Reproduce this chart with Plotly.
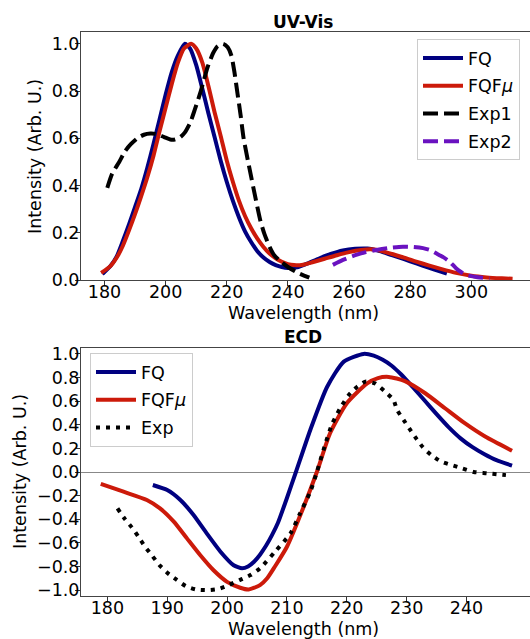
import plotly.graph_objects as go

# ---------------- UV-Vis data ----------------
uv_fq_x = [179.3, 182, 184, 186, 188, 190, 192, 194, 196, 198, 200, 202, 204, 206.3, 208, 210,
           212, 214, 216, 218, 220, 222, 224, 226, 228, 230, 232, 234, 236, 238, 240, 243, 246,
           250, 254, 258, 262, 266, 270, 274, 278, 282, 286, 290, 292]
uv_fq_y = [0.025, 0.06, 0.10, 0.165, 0.235, 0.31, 0.385, 0.475, 0.575, 0.68, 0.785, 0.88, 0.95, 1.0, 0.98, 0.91,
           0.81, 0.705, 0.605, 0.505, 0.415, 0.335, 0.265, 0.205, 0.16, 0.122, 0.095, 0.076, 0.063, 0.055, 0.051, 0.054, 0.068,
           0.09, 0.11, 0.125, 0.132, 0.133, 0.122, 0.105, 0.088, 0.07, 0.053, 0.035, 0.027]

uv_fqfmu_x = [178.9, 182, 184, 186, 188, 190, 192, 194, 196, 198, 200, 202, 204, 206, 208.3, 210,
              212, 214, 216, 218, 220, 222, 224, 226, 228, 230, 232, 234, 236, 238, 240, 242, 245,
              248, 252, 256, 260, 264, 267, 270, 274, 278, 282, 286, 290, 295, 300, 305, 310, 313.5]
uv_fqfmu_y = [0.03, 0.06, 0.095, 0.145, 0.21, 0.28, 0.355, 0.435, 0.525, 0.63, 0.73, 0.83, 0.92, 0.98, 1.0, 0.98,
              0.92, 0.82, 0.71, 0.61, 0.505, 0.415, 0.335, 0.27, 0.218, 0.175, 0.14, 0.112, 0.092, 0.077, 0.067, 0.063, 0.065,
              0.075, 0.09, 0.105, 0.118, 0.127, 0.13, 0.125, 0.11, 0.095, 0.078, 0.062, 0.047, 0.03, 0.018, 0.011, 0.007, 0.005]

uv_exp1_x = [180.9, 182.5, 184.8, 186.7, 188.6, 190.7, 192.9, 195, 197, 199.5, 201.5, 203, 204.8, 206.3,
             208, 209.5, 211.5, 213.7, 215.5, 217, 218.8, 220.3, 221.5, 222.5, 223.5, 224.5, 225.5,
             227.3, 229.5, 231, 232.3, 234, 235.5, 237.5, 240, 243, 247]
uv_exp1_y = [0.39, 0.45, 0.50, 0.545, 0.575, 0.60, 0.615, 0.62, 0.618, 0.605, 0.595, 0.595, 0.605, 0.625,
             0.665, 0.72, 0.80, 0.90, 0.96, 0.99, 1.0, 0.985, 0.95, 0.88, 0.79, 0.70, 0.60,
             0.48, 0.34, 0.25, 0.195, 0.14, 0.105, 0.08, 0.055, 0.032, 0.01]

uv_exp2_x = [254.7, 258, 262.3, 265.5, 268.9, 273, 277.6, 281, 284.2, 286.4, 288.5, 290.8, 292.9,
             295, 296.5, 298.4, 302, 306]
uv_exp2_y = [0.064, 0.085, 0.106, 0.118, 0.127, 0.136, 0.141, 0.14, 0.135, 0.127, 0.113, 0.097, 0.078,
             0.05, 0.035, 0.021, 0.012, 0.007]

# ---------------- ECD data ----------------
ecd_fq_x = [187.6, 190.0, 192.2, 194.4, 196.6, 198.9, 201.1, 202.5, 203.5, 204.5, 205.5, 206.5, 207.5,
            208.5, 210.0, 211.5, 213.9, 216.7, 219.5, 222.8, 224.5, 226.0, 227.5, 229.0, 231.0, 233.0,
            235.0, 237.0, 239.0, 241.0, 243.0, 245.0, 247.6]
ecd_fq_y = [-0.11, -0.153, -0.237, -0.364, -0.52, -0.675, -0.79, -0.816, -0.80, -0.76, -0.70, -0.625, -0.535,
            -0.43, -0.22, 0.0, 0.356, 0.72, 0.935, 1.0, 0.985, 0.95, 0.90, 0.83, 0.72, 0.605,
            0.49, 0.38, 0.285, 0.21, 0.15, 0.10, 0.054]

ecd_fqfmu_x = [178.9, 182.7, 186.6, 188.8, 191.1, 193.3, 195.5, 197.7, 200.0, 202.2, 203.6, 205.5, 206.7,
               208.0, 210.0, 212.8, 215.0, 217.2, 220.0, 223.4, 225.2, 227.0, 229.7, 233.1, 236.4, 239.7,
               243.1, 247.6]
ecd_fqfmu_y = [-0.10, -0.167, -0.237, -0.308, -0.42, -0.562, -0.703, -0.83, -0.93, -0.98, -0.995, -0.958, -0.90,
               -0.80, -0.633, -0.294, 0.0, 0.328, 0.582, 0.75, 0.795, 0.805, 0.77, 0.667, 0.54, 0.413,
               0.30, 0.18]

ecd_exp_x = [181.7, 182.8, 184.1, 185.2, 186.3, 187.5, 188.7, 190.0, 191.5, 193.1, 194.8, 196.7, 198.6,
             200.4, 202.1, 203.9, 205.5, 208.0, 210.6, 212.2, 213.9, 215.0, 216.1, 217.5, 218.9, 220.3,
             221.7, 223.1, 224.7, 226.4, 227.8, 228.4, 229.5, 230.6, 231.7, 232.7, 234.1, 235.7, 237.4,
             239.3, 241.2, 243.4, 245.3, 247.3]
ecd_exp_y = [-0.308, -0.39, -0.47, -0.548, -0.633, -0.71, -0.788, -0.853, -0.91, -0.966, -0.995, -1.0, -0.99,
             -0.955, -0.915, -0.873, -0.816, -0.675, -0.52, -0.35, -0.167, 0.0, 0.186, 0.40, 0.54, 0.65,
             0.72, 0.765, 0.75, 0.68, 0.61, 0.525, 0.44, 0.356, 0.277, 0.21, 0.144, 0.09, 0.06,
             0.03, 0.0, -0.01, -0.02, -0.03]

uv_xticks = [180, 200, 220, 240, 260, 280, 300]
uv_yticks = [0.0, 0.2, 0.4, 0.6, 0.8, 1.0]
ecd_xticks = [180, 190, 200, 210, 220, 230, 240]
ecd_yticks = [-1.0, -0.8, -0.6, -0.4, -0.2, 0.0, 0.2, 0.4, 0.6, 0.8, 1.0]

NAVY = "#000080"
RED = "#CC1A0A"
PURPLE = "#6A12C0"
FONT = "DejaVu Sans"
FS = 17.5
LW = 4
SM = 0.6

fig = go.Figure()

def add(x, y, name, color, xa, ya, lg, dash=None):
    line = dict(color=color, width=LW, shape="spline", smoothing=SM)
    if dash:
        line["dash"] = dash
    fig.add_trace(go.Scatter(x=x, y=y, mode="lines", name=name, line=line,
                             xaxis=xa, yaxis=ya, legend=lg, legendgroup=lg + name))

add(uv_fq_x, uv_fq_y, "FQ", NAVY, "x", "y", "legend")
add(uv_fqfmu_x, uv_fqfmu_y, "FQF<i>μ</i>", RED, "x", "y", "legend")
add(uv_exp1_x, uv_exp1_y, "Exp1", "black", "x", "y", "legend", "15px,6px")
add(uv_exp2_x, uv_exp2_y, "Exp2", PURPLE, "x", "y", "legend", "15px,6px")
add(ecd_fq_x, ecd_fq_y, "FQ", NAVY, "x2", "y2", "legend2")
add(ecd_fqfmu_x, ecd_fqfmu_y, "FQF<i>μ</i>", RED, "x2", "y2", "legend2")
add(ecd_exp_x, ecd_exp_y, "Exp", "black", "x2", "y2", "legend2", "4px,6px")

axis_common = dict(showline=True, linecolor="#444", linewidth=1, ticks="outside", ticklen=5,
                   tickwidth=1, tickcolor="#333", showgrid=False,
                   tickfont=dict(family=FONT, size=FS, color="black"))

H_TOP, H_BOT = 32, 43
PH = 639 - H_TOP - H_BOT

def py(p):
    return (639 - H_BOT - p) / PH

def px(p):
    return (p - 81) / (530 - 81)

def label(text, x, y, size=FS, angle=0):
    return dict(text=text, x=px(x), y=py(y), xref="paper", yref="paper",
                xanchor="center", yanchor="middle", showarrow=False, textangle=angle,
                font=dict(family=FONT, size=size, color="black"))

legend_common = dict(bordercolor="#ccc", borderwidth=1, bgcolor="rgba(255,255,255,0.8)",
                     itemwidth=40, tracegroupgap=2,
                     font=dict(family=FONT, size=FS, color="black"))

fig.update_layout(
    width=530, height=639,
    margin=dict(l=81, r=0, t=H_TOP, b=H_BOT, autoexpand=False),
    paper_bgcolor="white", plot_bgcolor="white",
    font=dict(family=FONT, size=FS, color="black"),
    xaxis=dict(axis_common, domain=[0, 1], range=[172.3, 319.2], tickvals=uv_xticks,
               mirror=True, zeroline=False, anchor="y", ticklabelstandoff=-9),
    yaxis=dict(axis_common, domain=[py(280), 1], range=[0, 1.05], tickvals=uv_yticks,
               tickformat=".1f", zeroline=False, anchor="x", ticklabelstandoff=-8),
    xaxis2=dict(axis_common, domain=[0, 1], range=[175.6, 250.6], tickvals=ecd_xticks,
                mirror=True, zeroline=False, anchor="y2", ticklabelstandoff=-9),
    yaxis2=dict(axis_common, domain=[0, py(348)], range=[-1.05, 1.05], tickvals=ecd_yticks,
                tickformat=".1f", zeroline=True, zerolinecolor="#888", zerolinewidth=1, anchor="x2",
                ticklabelstandoff=-8),
    legend=dict(legend_common, x=px(520), y=py(39), xanchor="right", yanchor="top"),
    legend2=dict(legend_common, x=px(90), y=py(353), xanchor="left", yanchor="top"),
    annotations=[
        label("<b>UV-Vis</b>", 303, 22, size=17),
        label("<b>ECD</b>", 303, 337, size=17),
        label("Wavelength (nm)", 303, 313),
        label("Wavelength (nm)", 303, 629),
        label("Intensity (Arb. U.)", 35, 157, angle=-90),
        label("Intensity (Arb. U.)", 20, 472, angle=-90),
    ],
)

fig.write_html("out.html", config={"displayModeBar": False},
               post_script="document.body.style.margin='0px';")
